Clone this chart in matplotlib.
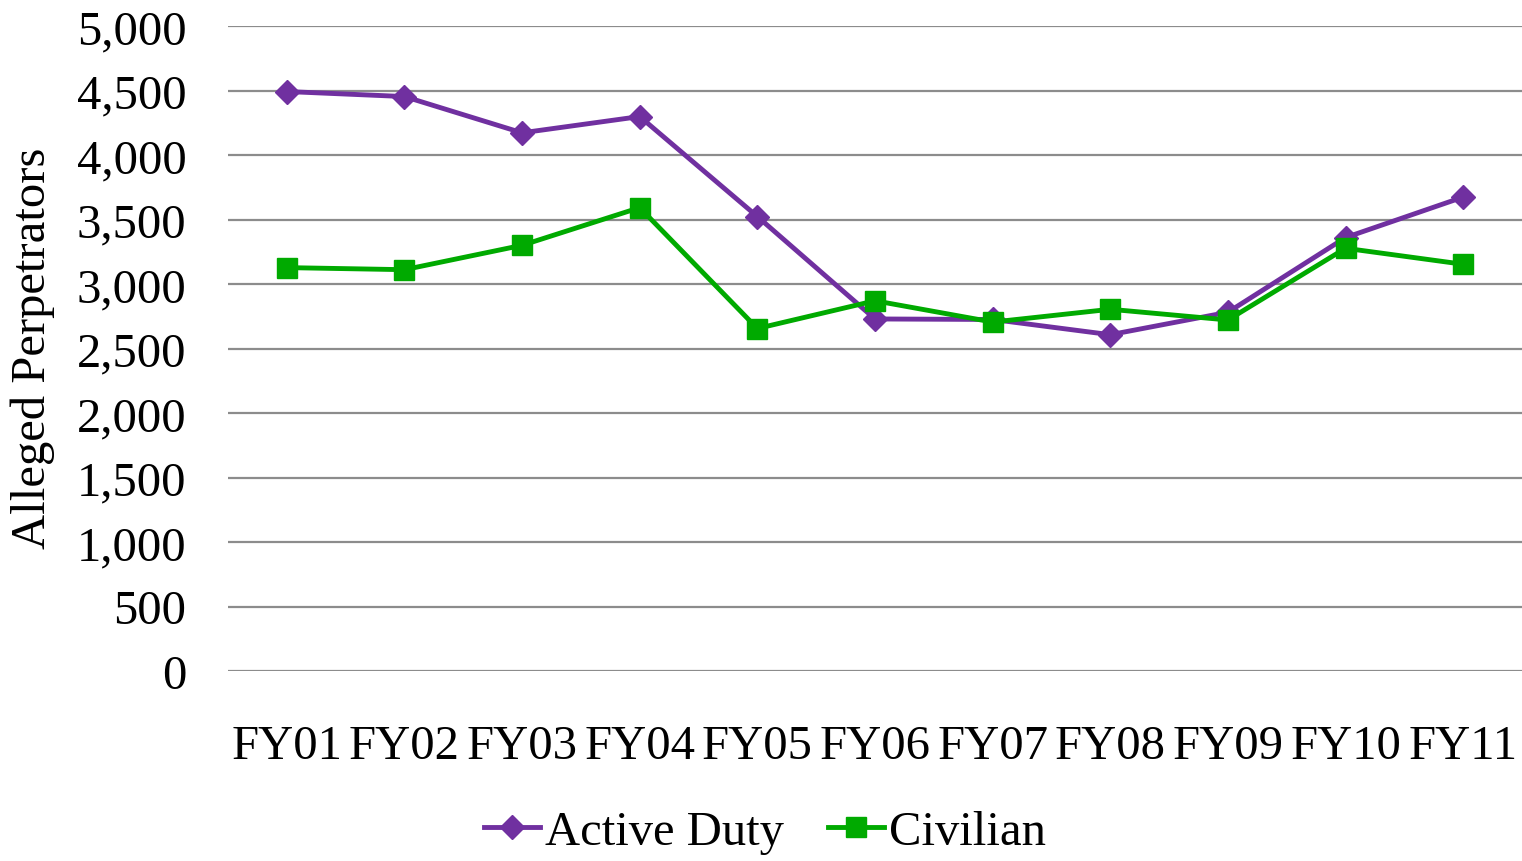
import numpy as np
import matplotlib.pyplot as plt

# Data
years = ["FY01", "FY02", "FY03", "FY04", "FY05", "FY06",
         "FY07", "FY08", "FY09", "FY10", "FY11"]
active_duty = [4492, 4453, 4172, 4298, 3523, 2729, 2725, 2607, 2781, 3360, 3674]
civilian = [3127, 3111, 3300, 3592, 2655, 2870, 2705, 2804, 2721, 3277, 3153]
yticks = [0, 500, 1000, 1500, 2000, 2500, 3000, 3500, 4000, 4500, 5000]

plt.rcParams['font.family'] = ['Liberation Serif', 'DejaVu Serif']
FS = 35

fig = plt.figure(figsize=(15.22, 8.62), dpi=100)
ax = fig.add_axes([228/1522, 1 - 672/862, (1522-228)/1522, (672-27)/862])

x = np.arange(len(years))
ax.plot(x, active_duty, color="#7030A0", lw=3.5, marker="D", ms=12,
        label="Active Duty", zorder=3)
ax.plot(x, civilian, color="#00AA00", lw=3.5, marker="s", ms=15,
        label="Civilian", zorder=4)

ax.set_xlim(-0.5, len(years) - 0.5)
ax.set_ylim(0, 5000)
ax.set_yticks(yticks)
ax.set_yticklabels([f"{v:,}" for v in yticks], fontsize=FS)
ax.set_xticks(x)
ax.set_xticklabels(years, fontsize=FS)
ax.tick_params(axis='both', length=0)
ax.tick_params(axis='x', pad=38)
ax.tick_params(axis='y', pad=30)
ax.grid(axis='y', color="#8c8c8c", lw=1.6)
ax.set_axisbelow(True)
for s in ax.spines.values():
    s.set_visible(False)

fig.text(33/1522, 1 - 348/862, "Alleged Perpetrators", fontsize=FS,
         rotation=90, ha="center", va="center")

fig.legend(loc="center", bbox_to_anchor=(765/1522, 1 - 833/862), ncol=2,
           frameon=False, fontsize=FS, handlelength=1.15, handletextpad=0.1,
           columnspacing=0.9)

fig.savefig("out.png", dpi=100)
